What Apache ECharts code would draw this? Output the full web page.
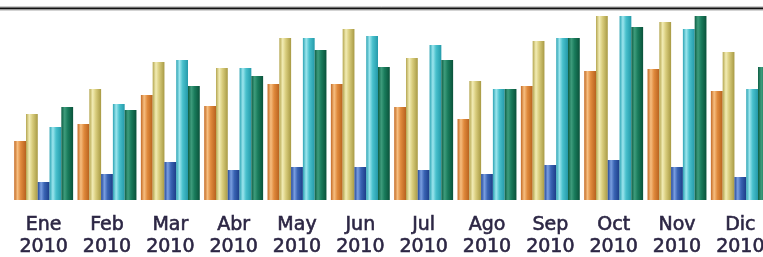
<!DOCTYPE html>
<html><head><meta charset="utf-8">
<script src="https://cdn.jsdelivr.net/npm/echarts@6/dist/echarts.min.js"></script>
<style>html,body{margin:0;padding:0;background:#fff}#c{width:763px;height:257px}</style>
</head><body><div id="c"></div>
<script>
const months = ['Ene','Feb','Mar','Abr','May','Jun','Jul','Ago','Sep','Oct','Nov','Dic'];
const year = '2010';
const seriesOrange = [59, 76, 105, 94, 116, 116, 93, 81, 114, 129, 131, 109];
const seriesYellow = [86, 111, 138, 132, 162, 171, 142, 119, 159, 184, 178, 148];
const seriesBlue   = [18, 26, 38, 30, 33, 33, 30, 26, 35, 40, 33, 23];
const seriesCyan   = [73, 96, 140, 132, 162, 164, 155, 111, 162, 184, 171, 111];
const seriesGreen  = [93, 90, 114, 124, 150, 133, 140, 111, 162, 173, 184, 133];

function grad(dark, light, base, edge){
  return new echarts.graphic.LinearGradient(0,0,1,0,[
    {offset:0,color:dark},{offset:0.28,color:light},{offset:0.55,color:base},{offset:1,color:edge}]);
}
const styles = [
  grad('#c46a24','#f6be80','#e08a3c','#b8621e'),
  grad('#b4a650','#f2ecb4','#d8cc7c','#a89a44'),
  grad('#23489a','#7a9ee0','#3a64b4','#1c3c88'),
  grad('#2ca4b4','#9ce6ee','#48c0cc','#249aaa'),
  grad('#0e5e44','#3e9c7c','#1a7c5c','#0a523a')
];
const data = [seriesOrange, seriesYellow, seriesBlue, seriesCyan, seriesGreen];
const chart = echarts.init(document.getElementById('c'), null, {renderer:'canvas'});
chart.setOption({
  animation:false,
  backgroundColor:'#ffffff',
  grid:{left:12, top:8, width:760, height:192, containLabel:false, outerBoundsMode:'none'},
  xAxis:{type:'category', data:months.map(m=>m+'\n'+year),
    axisLine:{show:false}, axisTick:{show:false},
    axisLabel:{margin:14, fontFamily:'DejaVu Sans', fontSize:19, lineHeight:22, color:'#2c2644',
      textBorderColor:'#2c2644', textBorderWidth:0.6, interval:0, hideOverlap:false}},
  yAxis:{type:'value', min:0, max:192, show:false, splitLine:{show:false}},
  graphic:[
    {type:'line', shape:{x1:0,y1:7,x2:763,y2:7}, style:{stroke:'#9a9a9a', lineWidth:1}},
    {type:'line', shape:{x1:0,y1:8.5,x2:763,y2:8.5}, style:{stroke:'#111', lineWidth:2}},
    {type:'line', shape:{x1:0,y1:10,x2:763,y2:10}, style:{stroke:'#a8a8a8', lineWidth:1}}
  ],
  series:data.map((d,i)=>({type:'bar', data:d, barGap:'0%', barCategoryGap:'7%',
    itemStyle:{color:styles[i]}}))
});
</script></body></html>
